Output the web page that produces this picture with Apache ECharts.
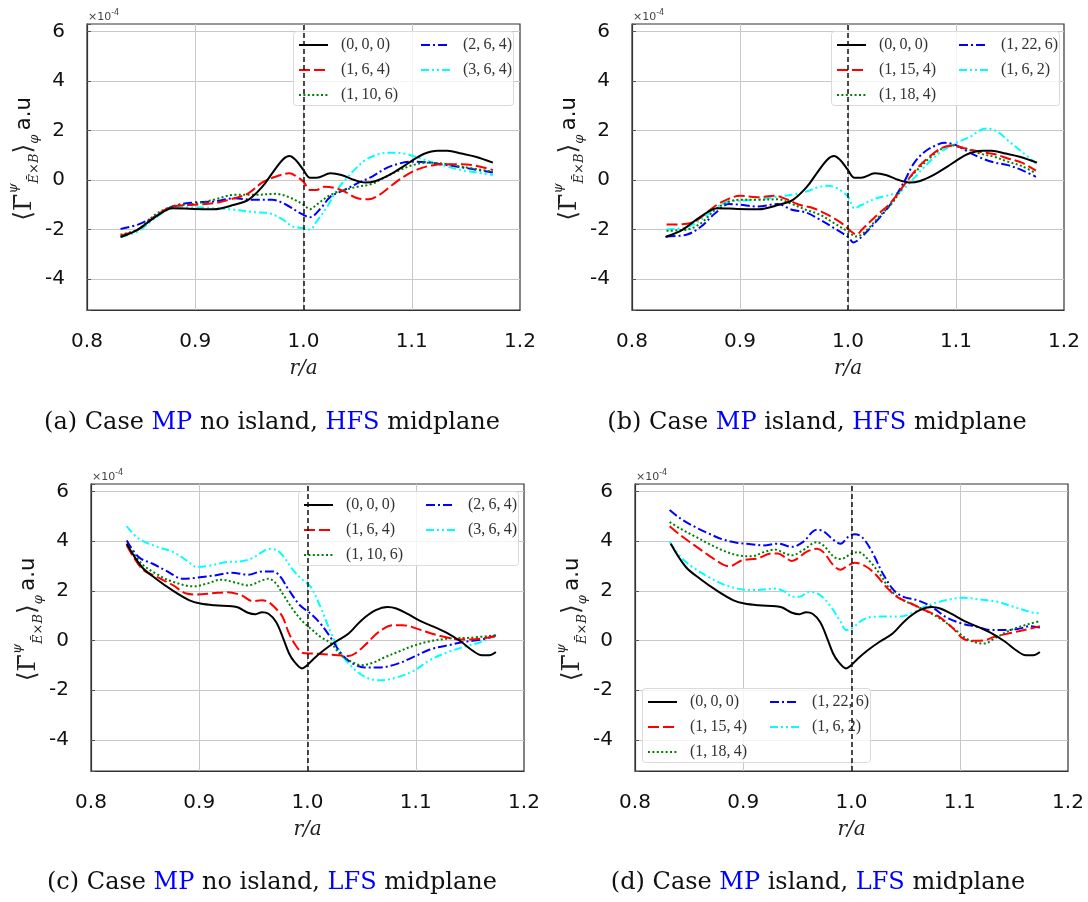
<!DOCTYPE html>
<html>
<head>
<meta charset="utf-8">
<script src="https://cdn.jsdelivr.net/npm/echarts@6/dist/echarts.min.js"></script>
<style>html,body{margin:0;padding:0;background:#fff;}#c{width:1088px;height:902px;}</style>
</head>
<body>
<div id="c"></div>
<script>
// ---------- tick labels ----------
const xTickLabels = ['0.8', '0.9', '1.0', '1.1', '1.2'];
const yTickLabels = ['-4', '-2', '0', '2', '4', '6'];
const separatrix = 1.0;

// ---------- HFS midplane (panels a, b) ----------
const hfs000_x = [0.831,0.847,0.863,0.879,0.898,0.917,0.936,0.949,0.962,0.971,0.981,0.987,0.993,1.0,1.006,1.012,1.025,1.035,1.047,1.057,1.066,1.079,1.092,1.101,1.111,1.124,1.133,1.146,1.159,1.175];
const hfs000_y = [-2.3,-2.0,-1.5,-1.14,-1.17,-1.18,-1.0,-0.8,-0.27,0.27,0.83,0.97,0.8,0.4,0.09,0.09,0.27,0.2,0,-0.1,-0.05,0.2,0.54,0.8,1.05,1.18,1.18,1.07,0.94,0.7];

const a164_x = [0.831,0.847,0.863,0.879,0.898,0.917,0.936,0.949,0.962,0.974,0.987,0.993,1.0,1.006,1.012,1.019,1.028,1.038,1.05,1.06,1.07,1.082,1.095,1.108,1.12,1.133,1.146,1.159,1.175];
const a164_y = [-2.25,-2.0,-1.47,-1.07,-1.0,-0.94,-0.74,-0.54,-0.1,0.13,0.27,0.16,-0.07,-0.4,-0.4,-0.27,-0.31,-0.47,-0.74,-0.78,-0.6,-0.2,0.2,0.47,0.6,0.64,0.64,0.58,0.4];

const a1106_x = [0.831,0.847,0.863,0.879,0.898,0.917,0.936,0.955,0.974,0.987,1.0,1.006,1.012,1.025,1.038,1.05,1.063,1.076,1.089,1.101,1.114,1.127,1.146,1.175];
const a1106_y = [-2.2,-2.0,-1.4,-1.07,-0.97,-0.8,-0.6,-0.6,-0.56,-0.7,-1.0,-1.18,-1.0,-0.6,-0.4,-0.27,-0.16,0.13,0.4,0.6,0.7,0.67,0.54,0.33];

const a264_x = [0.831,0.847,0.863,0.879,0.898,0.917,0.936,0.955,0.971,0.984,0.997,1.006,1.016,1.025,1.038,1.05,1.063,1.076,1.089,1.101,1.114,1.133,1.152,1.175];
const a264_y = [-1.98,-1.8,-1.47,-1.07,-0.91,-0.87,-0.74,-0.8,-0.8,-1.0,-1.34,-1.5,-1.14,-0.67,-0.4,-0.13,0.13,0.47,0.67,0.74,0.71,0.6,0.47,0.3];

const a364_x = [0.831,0.847,0.863,0.879,0.898,0.917,0.936,0.955,0.968,0.981,0.99,1.0,1.006,1.012,1.022,1.031,1.044,1.057,1.07,1.082,1.095,1.108,1.12,1.133,1.146,1.165,1.175];
const a364_y = [-2.3,-2.08,-1.54,-1.14,-1.1,-1.14,-1.2,-1.3,-1.34,-1.6,-1.88,-1.94,-2.0,-1.68,-1.07,-0.4,0.27,0.8,1.05,1.1,1.05,0.87,0.7,0.54,0.4,0.27,0.2];

const b1154_x = [0.832,0.851,0.861,0.877,0.89,0.9,0.916,0.932,0.941,0.955,0.968,0.981,0.994,1.003,1.008,1.013,1.026,1.039,1.052,1.064,1.077,1.087,1.096,1.109,1.122,1.135,1.148,1.161,1.174];
const b1154_y = [-1.8,-1.77,-1.6,-1.05,-0.75,-0.64,-0.7,-0.64,-0.74,-1.0,-1.14,-1.4,-1.74,-2.08,-2.2,-2.0,-1.45,-0.94,-0.2,0.47,1.0,1.3,1.38,1.27,1.14,1.05,0.87,0.7,0.38];

const b1184_x = [0.832,0.851,0.864,0.877,0.89,0.9,0.916,0.935,0.948,0.961,0.974,0.987,1.0,1.008,1.016,1.029,1.042,1.053,1.064,1.077,1.087,1.096,1.109,1.122,1.135,1.148,1.161,1.174];
const b1184_y = [-2.05,-2.0,-1.74,-1.2,-0.87,-0.8,-0.8,-0.78,-0.97,-1.2,-1.4,-1.74,-2.08,-2.28,-2.08,-1.47,-0.87,-0.13,0.4,0.94,1.27,1.4,1.27,1.07,0.94,0.74,0.56,0.27];

const b1226_x = [0.832,0.851,0.864,0.877,0.89,0.9,0.916,0.935,0.948,0.961,0.974,0.987,1.0,1.005,1.013,1.026,1.039,1.052,1.061,1.071,1.084,1.09,1.1,1.109,1.122,1.135,1.148,1.161,1.174];
const b1226_y = [-2.28,-2.2,-1.88,-1.34,-0.97,-1.0,-1.07,-0.97,-1.2,-1.31,-1.6,-1.94,-2.3,-2.52,-2.28,-1.68,-1.0,-0.07,0.67,1.14,1.45,1.5,1.41,1.2,0.91,0.71,0.6,0.4,0.13];

const b162_x = [0.832,0.851,0.864,0.877,0.89,0.903,0.916,0.935,0.948,0.961,0.974,0.981,0.99,1.0,1.006,1.013,1.026,1.039,1.048,1.058,1.071,1.084,1.1,1.113,1.122,1.129,1.139,1.148,1.161,1.174];
const b162_y = [-2.0,-1.9,-1.6,-1.14,-0.87,-0.83,-0.8,-0.67,-0.6,-0.47,-0.27,-0.23,-0.34,-0.67,-1.14,-1.0,-0.74,-0.6,-0.47,-0.07,0.54,1.07,1.5,1.74,2.0,2.08,1.94,1.6,1.14,0.67];

// ---------- LFS midplane (panels c, d) ----------
const lfs000_x = [0.833,0.847,0.86,0.876,0.891,0.901,0.914,0.93,0.936,0.945,0.952,0.958,0.964,0.971,0.977,0.983,0.988,0.995,0.999,1.006,1.015,1.026,1.038,1.05,1.063,1.074,1.082,1.092,1.104,1.117,1.13,1.142,1.152,1.161,1.168,1.174];
const lfs000_y = [3.9,2.96,2.49,2.0,1.62,1.49,1.42,1.38,1.33,1.12,1.06,1.14,1.08,0.75,0.15,-0.52,-0.86,-1.12,-1.02,-0.72,-0.39,-0.05,0.28,0.82,1.22,1.35,1.29,1.08,0.79,0.55,0.28,-0.05,-0.39,-0.59,-0.59,-0.46];

const c164_x = [0.833,0.847,0.86,0.876,0.888,0.898,0.914,0.926,0.939,0.949,0.958,0.964,0.971,0.977,0.983,0.99,0.996,1.003,1.015,1.028,1.038,1.044,1.053,1.066,1.079,1.088,1.101,1.117,1.13,1.142,1.161,1.174];
const c164_y = [3.83,2.89,2.58,2.22,1.89,1.85,1.91,1.94,1.82,1.59,1.62,1.55,1.28,0.95,0.28,-0.25,-0.5,-0.52,-0.55,-0.59,-0.62,-0.52,-0.19,0.35,0.62,0.62,0.48,0.25,0.11,0.04,0.08,0.17];

const c1106_x = [0.833,0.847,0.86,0.876,0.895,0.907,0.92,0.933,0.945,0.958,0.964,0.971,0.977,0.987,0.996,1.003,1.012,1.022,1.031,1.041,1.05,1.06,1.072,1.085,1.098,1.113,1.13,1.149,1.174];
const c1106_y = [3.9,3.09,2.69,2.36,2.18,2.29,2.45,2.34,2.22,2.42,2.49,2.29,1.89,1.22,0.75,0.48,0.15,-0.12,-0.59,-0.86,-0.99,-0.9,-0.66,-0.43,-0.21,-0.03,0.08,0.11,0.21];

const c264_x = [0.833,0.844,0.857,0.869,0.885,0.898,0.914,0.93,0.945,0.958,0.968,0.974,0.983,0.993,1.003,1.012,1.022,1.031,1.041,1.053,1.066,1.082,1.098,1.113,1.13,1.145,1.161,1.174];
const c264_y = [4.03,3.36,3.09,2.82,2.49,2.53,2.62,2.73,2.65,2.78,2.78,2.62,2.02,1.42,1.08,0.68,0.08,-0.52,-0.9,-1.08,-1.08,-0.95,-0.66,-0.36,-0.19,-0.05,0.04,0.21];

const c364_x = [0.833,0.844,0.86,0.876,0.888,0.898,0.91,0.926,0.939,0.949,0.958,0.964,0.971,0.977,0.987,0.996,1.003,1.012,1.022,1.031,1.041,1.053,1.066,1.082,1.098,1.113,1.13,1.145,1.161,1.174];
const c364_y = [4.6,4.1,3.79,3.56,3.23,2.96,3.02,3.16,3.19,3.32,3.56,3.69,3.65,3.43,2.82,2.42,2.16,1.35,0.28,-0.52,-1.06,-1.46,-1.6,-1.49,-1.22,-0.79,-0.46,-0.25,-0.05,0.21];

const d1154_x = [0.832,0.842,0.855,0.868,0.881,0.887,0.899,0.913,0.926,0.932,0.939,0.945,0.952,0.958,0.968,0.974,0.984,0.99,0.997,1.003,1.013,1.023,1.032,1.042,1.055,1.068,1.081,1.094,1.103,1.113,1.123,1.132,1.148,1.165,1.174];
const d1154_y = [4.6,4.24,3.83,3.43,3.07,2.99,3.23,3.3,3.5,3.5,3.34,3.2,3.36,3.56,3.69,3.56,2.99,2.85,3.03,3.13,2.99,2.63,2.16,1.76,1.49,1.22,0.95,0.48,0.08,-0.01,0.01,0.15,0.31,0.48,0.58];

const d1184_x = [0.832,0.842,0.855,0.868,0.881,0.895,0.908,0.919,0.929,0.939,0.945,0.955,0.968,0.974,0.984,0.99,1.0,1.006,1.016,1.026,1.035,1.045,1.058,1.071,1.084,1.097,1.106,1.116,1.123,1.132,1.148,1.165,1.174];
const d1184_y = [4.77,4.5,4.2,3.9,3.63,3.43,3.39,3.56,3.66,3.5,3.43,3.63,3.96,3.83,3.36,3.28,3.5,3.56,3.23,2.69,2.09,1.69,1.42,1.15,0.82,0.39,0.08,-0.09,-0.12,0.08,0.44,0.68,0.78];

const d1226_x = [0.832,0.842,0.855,0.868,0.881,0.895,0.907,0.919,0.932,0.945,0.955,0.968,0.974,0.984,0.99,0.997,1.003,1.01,1.019,1.029,1.039,1.048,1.061,1.074,1.087,1.1,1.116,1.129,1.142,1.155,1.165,1.174];
const d1226_y = [5.25,4.91,4.58,4.31,4.07,3.93,3.88,3.83,3.9,3.77,3.96,4.46,4.4,4.03,3.9,4.17,4.28,4.15,3.57,2.69,2.03,1.76,1.62,1.36,0.95,0.71,0.55,0.42,0.42,0.48,0.58,0.52];

const d162_x = [0.832,0.842,0.855,0.868,0.881,0.895,0.908,0.919,0.929,0.939,0.945,0.952,0.961,0.971,0.981,0.99,0.995,1.0,1.01,1.019,1.032,1.045,1.058,1.071,1.087,1.103,1.119,1.135,1.148,1.165,1.174];
const d162_y = [3.97,3.37,2.9,2.56,2.27,2.09,2.03,2.05,2.09,1.96,1.76,1.76,1.96,1.83,1.36,0.75,0.42,0.48,0.82,0.95,0.97,0.97,1.15,1.42,1.62,1.72,1.65,1.56,1.38,1.15,1.09];

// ---------- captions & legend names ----------
const captions = [
  ['(a) Case ', 'MP', ' no island, ', 'HFS', ' midplane'],
  ['(b) Case ', 'MP', ' island, ', 'HFS', ' midplane'],
  ['(c) Case ', 'MP', ' no island, ', 'LFS', ' midplane'],
  ['(d) Case ', 'MP', ' island, ', 'LFS', ' midplane']
];
const N000 = '(0,\u20090,\u20090)', N164 = '(1,\u20096,\u20094)', N1106 = '(1,\u200910,\u20096)',
      N264 = '(2,\u20096,\u20094)', N364 = '(3,\u20096,\u20094)', N1154 = '(1,\u200915,\u20094)',
      N1184 = '(1,\u200918,\u20094)', N1226 = '(1,\u200922,\u20096)', N162 = '(1,\u20096,\u20092)';

// ---------- styles & layout ----------
const ST = {
  black: {color: '#000000', type: 'solid'},
  red:   {color: '#ff0000', type: [11, 4]},
  green: {color: '#008000', type: [2, 2.4]},
  blue:  {color: '#0000ff', type: [9, 3, 2, 3]},
  cyan:  {color: '#00ffff', type: [8, 3, 2, 3, 2, 3]}
};
const grids = [
  {left: 87, top: 24, width: 433, height: 286},
  {left: 632, top: 24, width: 432, height: 286},
  {left: 91, top: 484, width: 433, height: 287},
  {left: 635, top: 484, width: 433, height: 287}
];
// legend frame boxes [x, y, w, h]
const legendBox = [[293, 31, 220, 74], [831, 31, 228, 74], [298, 491, 220, 74], [642, 688, 228, 74]];
const legendColGap = 122;
const captionPos = [[272, 423], [817, 423], [272, 883], [818, 883]];

const panels = [
  [[N000, hfs000_x, hfs000_y, 'black'], [N164, a164_x, a164_y, 'red'], [N1106, a1106_x, a1106_y, 'green'], [N264, a264_x, a264_y, 'blue'], [N364, a364_x, a364_y, 'cyan']],
  [[N000, hfs000_x, hfs000_y, 'black'], [N1154, b1154_x, b1154_y, 'red'], [N1184, b1184_x, b1184_y, 'green'], [N1226, b1226_x, b1226_y, 'blue'], [N162, b162_x, b162_y, 'cyan']],
  [[N000, lfs000_x, lfs000_y, 'black'], [N164, c164_x, c164_y, 'red'], [N1106, c1106_x, c1106_y, 'green'], [N264, c264_x, c264_y, 'blue'], [N364, c364_x, c364_y, 'cyan']],
  [[N000, lfs000_x, lfs000_y, 'black'], [N1154, d1154_x, d1154_y, 'red'], [N1184, d1184_x, d1184_y, 'green'], [N1226, d1226_x, d1226_y, 'blue'], [N162, d162_x, d162_y, 'cyan']]
];

const zip = (xs, ys) => xs.map((x, i) => [x, ys[i]]);

const legendBase = {
  orient: 'vertical', itemWidth: 29, itemHeight: 14, itemGap: 9, selectedMode: false,
  padding: 0, itemStyle: {opacity: 0, borderWidth: 0},
  textStyle: {fontFamily: 'Liberation Serif', fontSize: 16, color: '#333', padding: [0, 0, 0, 8]}
};

const xAxes = [], yAxes = [], series = [], legends = [], graphics = [];
grids.forEach((g, i) => {
  xAxes.push({
    gridIndex: i, type: 'value', min: 0.8, max: 1.2, interval: 0.1,
    name: 'r/a', nameLocation: 'middle', nameGap: 49,
    nameTextStyle: {fontFamily: 'DejaVu Serif', fontStyle: 'italic', fontSize: 20, color: '#222'},
    axisLine: {show: true, onZero: false, lineStyle: {color: '#333', width: 1.2}},
    axisTick: {show: false},
    axisLabel: {margin: 22, fontSize: 20, fontFamily: 'DejaVu Sans', color: '#111',
      formatter: v => xTickLabels[Math.round((v - 0.8) / 0.1)] || ''},
    splitLine: {show: true, showMinLine: false, showMaxLine: false, lineStyle: {color: '#c8c8c8', width: 1}}
  });
  yAxes.push({
    gridIndex: i, type: 'value', min: -5.25, max: 6.3, splitNumber: 5,
    name: '{a|⟨Γ̄}{sup|ψ}{sub|Ē×B}{a|⟩}{sub|φ}{sp| }{u|a.u}',
    nameLocation: 'middle', nameGap: 36, nameRotate: 90,
    nameTextStyle: {
      color: '#222', padding: [0, 0, 0, 16],
      rich: {
        a: {fontFamily: 'DejaVu Serif', fontSize: 25, lineHeight: 34, color: '#222'},
        sup: {fontFamily: 'DejaVu Serif', fontStyle: 'italic', fontSize: 13, lineHeight: 34, verticalAlign: 'top', color: '#222'},
        sub: {fontFamily: 'DejaVu Serif', fontStyle: 'italic', fontSize: 13, lineHeight: 34, verticalAlign: 'bottom', color: '#222'},
        sp: {fontSize: 16},
        u: {fontFamily: 'DejaVu Sans', fontSize: 21, lineHeight: 34, color: '#111'}
      }
    },
    axisLine: {show: true, onZero: false, lineStyle: {color: '#333', width: 1.2}},
    axisTick: {show: true, inside: true, length: 4, lineStyle: {color: '#555'}},
    axisLabel: {margin: 22, fontSize: 20, fontFamily: 'DejaVu Sans', color: '#111',
      formatter: v => { const s = String(Math.round(v)); return (Math.abs(v - Math.round(v)) < 1e-6 && yTickLabels.includes(s)) ? s : ''; }},
    splitLine: {show: true, showMinLine: false, showMaxLine: false, lineStyle: {color: '#c8c8c8', width: 1}}
  });
  panels[i].forEach((p, k) => {
    const st = ST[p[3]];
    const s = {
      type: 'line', name: p[0], xAxisIndex: i, yAxisIndex: i,
      data: zip(p[1], p[2]), showSymbol: false, symbol: 'none', smooth: 0.35,
      lineStyle: {color: st.color, type: st.type, width: 2},
      itemStyle: {color: st.color},
      z: 3 + (4 - k) * 0.01
    };
    if (k === 0) {
      s.markLine = {
        silent: true, symbol: ['none', 'none'], label: {show: false}, animation: false, z: 6,
        lineStyle: {color: '#111', type: [5, 3], width: 1.5},
        data: [{xAxis: separatrix}]
      };
    }
    series.push(s);
  });
  const b = legendBox[i];
  legends.push(Object.assign({}, legendBase, {
    left: b[0] + 5, top: b[1] + 6, data: panels[i].slice(0, 3).map(p => p[0])
  }));
  legends.push(Object.assign({}, legendBase, {
    left: b[0] + 5 + legendColGap, top: b[1] + 6, data: panels[i].slice(3).map(p => p[0])
  }));
  graphics.push({
    type: 'rect', z: 3.9, silent: true,
    shape: {x: b[0] + 0.5, y: b[1] + 0.5, width: b[2], height: b[3], r: 3},
    style: {fill: 'rgba(255,255,255,0.8)', stroke: '#dadada', lineWidth: 1}
  });
  graphics.push({
    type: 'text', left: g.left + 1, top: g.top - 15,
    style: {text: '{m|×10}{e|-4}', rich: {
      m: {fontFamily: 'DejaVu Sans', fontSize: 11, fill: '#444', lineHeight: 14, verticalAlign: 'bottom'},
      e: {fontFamily: 'DejaVu Sans', fontSize: 8, fill: '#444', lineHeight: 14, verticalAlign: 'top'}
    }}
  });
  const c = captions[i];
  graphics.push({
    type: 'text', x: captionPos[i][0], y: captionPos[i][1],
    style: {
      text: '{n|' + c[0] + '}{b|' + c[1] + '}{n|' + c[2] + '}{b|' + c[3] + '}{n|' + c[4] + '}',
      align: 'center', verticalAlign: 'middle',
      rich: {
        n: {fontFamily: 'DejaVu Serif', fontSize: 24, fill: '#111'},
        b: {fontFamily: 'DejaVu Serif', fontSize: 24, fill: '#0000ff'}
      }
    }
  });
});

const chart = echarts.init(document.getElementById('c'), null, {renderer: 'canvas'});
chart.setOption({
  animation: false,
  backgroundColor: '#ffffff',
  grid: grids.map(g => Object.assign({show: true, borderColor: '#333', borderWidth: 1.2, backgroundColor: 'transparent'}, g)),
  xAxis: xAxes, yAxis: yAxes, legend: legends, series: series,
  graphic: graphics
});
</script>
</body>
</html>
